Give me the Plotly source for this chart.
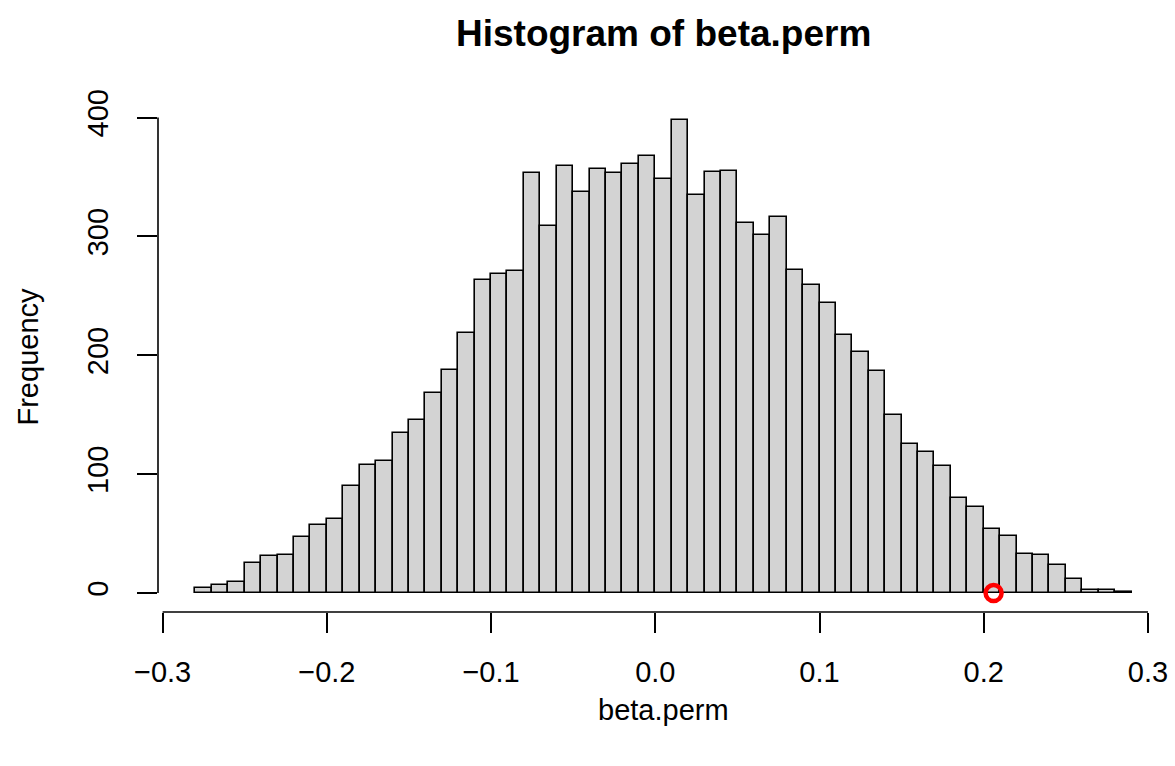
import plotly.graph_objects as go
import numpy as np

# histogram of permuted betas, bin width 0.01 starting at -0.28
bin_width = 0.01
bin_left = np.round(np.arange(-0.28, 0.285, bin_width), 2)
counts = [4, 7, 9, 25, 31, 32, 47, 57, 62, 90,
          108, 111, 135, 146, 168, 188, 219, 263, 268, 271,
          353, 309, 359, 337, 357, 353, 361, 368, 348, 398,
          335, 354, 355, 311, 301, 316, 272, 259, 244, 217,
          203, 187, 150, 125, 119, 107, 80, 72, 54, 48,
          33, 32, 24, 12, 3, 3, 1]

# observed beta marked in red
obs_x = [0.206]
obs_y = [0]

x_ticks = [-0.3, -0.2, -0.1, 0.0, 0.1, 0.2, 0.3]
x_labels = ["\u22120.3", "\u22120.2", "\u22120.1", "0.0", "0.1", "0.2", "0.3"]
y_ticks = [0, 100, 200, 300, 400]
y_labels = ["0", "100", "200", "300", "400"]

font = "Liberation Sans, Arial, Helvetica, sans-serif"

fig = go.Figure()
fig.add_trace(go.Bar(
    x=bin_left + bin_width / 2, y=counts, width=bin_width,
    marker=dict(color="#D3D3D3", line=dict(color="black", width=1.6)),
    showlegend=False, hoverinfo="y"))
fig.add_trace(go.Scatter(
    x=obs_x, y=obs_y, mode="markers",
    marker=dict(symbol="circle-open", size=16, color="red", line=dict(width=4.5)),
    showlegend=False))

# R-style axis lines that only span the tick range
fig.add_shape(type="line", xref="x", yref="paper", x0=min(x_ticks), x1=max(x_ticks),
              y0=0, y1=0, line=dict(color="black", width=1.6))
fig.add_shape(type="line", xref="paper", yref="y", x0=0, x1=0,
              y0=min(y_ticks), y1=max(y_ticks), line=dict(color="black", width=1.6))

fig.update_layout(
    width=1175, height=766,
    margin=dict(l=158.3, r=6.3, t=101.3, b=154.3, pad=0),
    plot_bgcolor="white", paper_bgcolor="white",
    font=dict(family=font, color="black", size=29),
    bargap=0,
    xaxis=dict(range=[-0.3028, 0.3128], tickvals=x_ticks, ticktext=x_labels,
               ticks="outside", ticklen=20, tickwidth=1.6, tickcolor="black",
               showline=False, showgrid=False, zeroline=False,
               ticklabelstandoff=14, automargin=False, tickfont=dict(size=29)),
    yaxis=dict(range=[-15.92, 413.92], tickvals=y_ticks, ticktext=y_labels,
               ticks="outside", ticklen=20, tickwidth=1.6, tickcolor="black",
               showline=False, showgrid=False, zeroline=False, tickangle=-90,
               ticklabelstandoff=17, automargin=False, tickfont=dict(size=29)),
    annotations=[
        dict(text="<b>Histogram of beta.perm</b>", xref="paper", yref="paper",
             x=0.5, y=1, yshift=68, showarrow=False, font=dict(size=37),
             xanchor="center", yanchor="middle"),
        dict(text="beta.perm", xref="paper", yref="paper", x=0.5, y=0,
             yshift=-98, showarrow=False, xanchor="center", yanchor="middle"),
        dict(text="Frequency", xref="paper", yref="paper", x=0, y=0.5,
             xshift=-131, showarrow=False, textangle=-90,
             xanchor="center", yanchor="middle"),
    ],
)

# drop the browser's default body margin so the figure sits at the page corner
fig.write_html("out.html", config={"displayModeBar": False},
               post_script="document.body.style.margin='0';")
